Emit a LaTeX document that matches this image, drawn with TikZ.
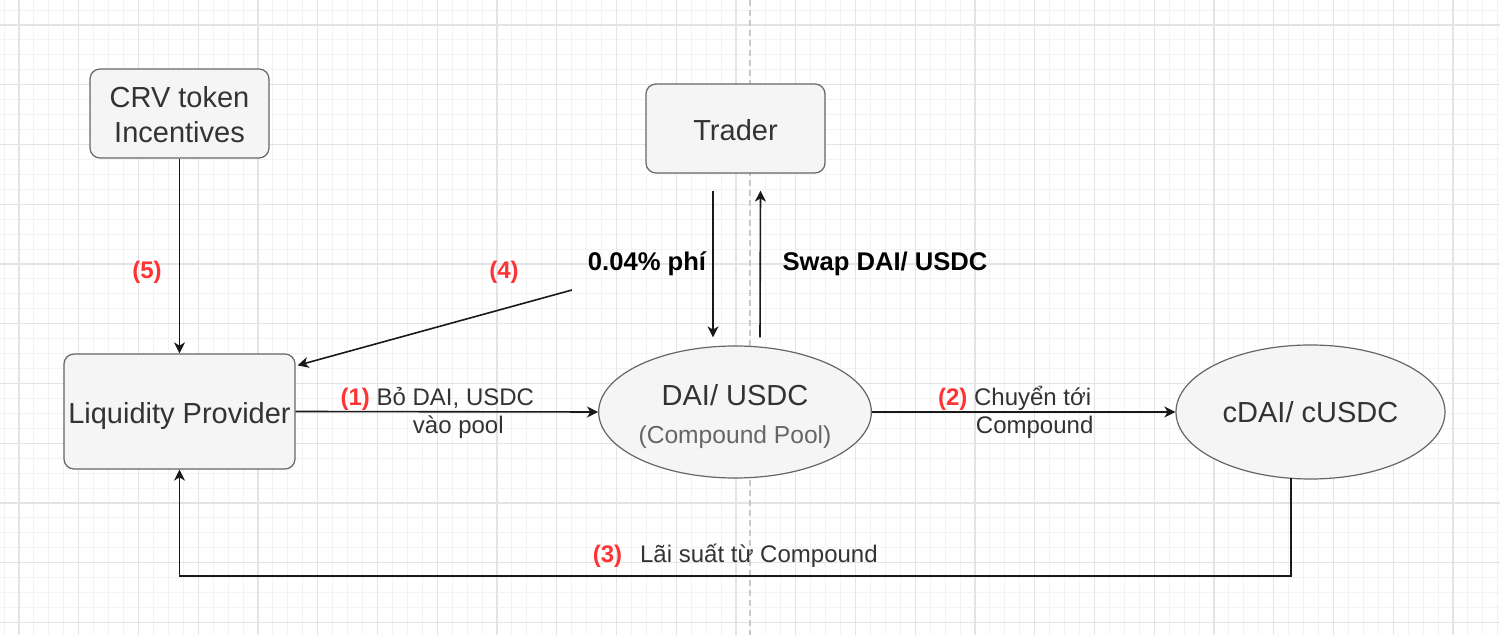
\documentclass[tikz,border=0pt]{standalone}
\usepackage{fontspec}
\setmainfont{Liberation Sans}
\usetikzlibrary{arrows.meta,calc,shapes.geometric}
\definecolor{gridmaj}{HTML}{E4E4E4}
\definecolor{gridmin}{HTML}{F3F3F3}
\definecolor{nodefill}{HTML}{F5F5F5}
\definecolor{nodeline}{HTML}{666666}
\definecolor{txt}{HTML}{333333}
\definecolor{lblred}{HTML}{FF3333}
\definecolor{dashc}{HTML}{C8C8C8}
\newcommand{\fsz}[2]{\fontsize{#1}{#2}\selectfont}
\newcommand{\dn}[2]{\raisebox{-#1}[\height][\depth]{#2}}
\begin{document}
\begin{tikzpicture}[x=0.5pt,y=-0.5pt,
  box/.style={draw=nodeline, fill=nodefill, line width=0.6pt, rounded corners=5pt,
    inner sep=0pt, text=txt, align=center, font=\fsz{14.5}{17.5}},
  oval/.style={ellipse, draw=nodeline, fill=nodefill, line width=0.6pt,
    inner sep=0pt, text=txt, align=center},
  arr/.style={draw=black!90, line width=0.8pt, -{Stealth[length=5.5pt,width=5.5pt,inset=1.6pt]}},
  elbl/.style={text=txt, font=\fsz{12}{14}, inner sep=0pt, anchor=base},
  num/.style={text=lblred, font=\bfseries\fsz{12}{14}, inner sep=0pt},
  boldlbl/.style={text=black, font=\bfseries\fsz{12.8}{15}, inner sep=0pt},
  minorgrid/.style={draw=gridmin, line width=0.5pt},
  majorgrid/.style={draw=gridmaj, line width=0.6pt},
]
\useasboundingbox (0,0) rectangle (1500,635);
\fill[white] (0,0) rectangle (1500,635);
% grid
\foreach \i in {-1,...,99} {\draw[minorgrid] ({19+\i*14.9375},0) -- ({19+\i*14.9375},635);}
\foreach \i in {-2,...,40} {\draw[minorgrid] (0,{25+\i*14.9375}) -- (1500,{25+\i*14.9375});}
\foreach \i in {0,...,24} {\draw[majorgrid] ({19+\i*59.75},0) -- ({19+\i*59.75},635);}
\foreach \i in {-1,...,10} {\draw[majorgrid] (0,{25+\i*59.75}) -- (1500,{25+\i*59.75});}
% dashed divider
\draw[dashc, line width=0.6pt, dash pattern=on 3pt off 2pt] (750,0) -- (750,635);

% nodes
\node[box, minimum width=89.5pt, minimum height=44.5pt] (crv) at (179.5,113.5) {\dn{0.5pt}{CRV token}\\\dn{0.5pt}{Incentives}};
\node[box, minimum width=89.5pt, minimum height=44.5pt] (trader) at (735.5,128.5) {\dn{1pt}{Trader}};
\node[box, minimum width=115.5pt, minimum height=57.5pt] (lp) at (179.5,411.5) {\dn{2.5pt}{Liquidity Provider}};
\node[oval, minimum width=135pt, minimum height=66pt, font=\fsz{14.5}{19}] (dai) at (735,412)
  {\dn{2.5pt}{DAI/ USDC}\\\dn{2.5pt}{\fsz{12.3}{19}\color{nodeline}(Compound Pool)}};
\node[oval, minimum width=134.5pt, minimum height=67pt, font=\fsz{14.5}{17.5}] (cdai) at (1310.5,412) {cDAI/ cUSDC};

% free labels
\node[num] (n5) at (147,272) {(5)};
\node[num] (n4) at (504,272) {(4)};
\node[boldlbl] (fee) at (647,264) {0.04\% phí};
\node[boldlbl] (swap) at (885,264) {Swap DAI/ USDC};

% connectors
\draw[arr] (crv.south) -- (lp.north);
\coordinate (f4) at (572,290);
\draw[arr] (f4) -- ($(lp.north east)+(2,12)$);
\draw[arr] ($(trader.south)+(-22.5,17)$) -- ($(dai.north)+(-22,-8)$);
\draw[arr] ($(dai.north)+(25,-8)$) -- ($(trader.south)+(25,17)$);
\draw[arr] (lp.east) -- (dai.west)
  node[pos=0.5, elbl, xshift=-4.75pt, yshift=3.2pt] {\textcolor{lblred}{\textbf{(1)}} Bỏ DAI, USDC}
  node[pos=0.5, elbl, xshift=5.75pt, yshift=-11pt] {vào pool};
\draw[arr] (dai.east) -- (cdai.west)
  node[pos=0.5, elbl, xshift=-4.5pt, yshift=3.2pt] {\textcolor{lblred}{\textbf{(2)}} Chuyển tới}
  node[pos=0.5, elbl, xshift=5.5pt, yshift=-11pt] {Compound};
\coordinate (s3) at ($(cdai.center)+(-19.5,66)$);
\draw[arr] (s3) -- ++(0,98) -| (lp.south)
  node[pos=0.25, elbl, yshift=6.5pt] {\textcolor{lblred}{\textbf{(3)}}\hspace{9pt}Lãi suất từ Compound};
\end{tikzpicture}
\end{document}
